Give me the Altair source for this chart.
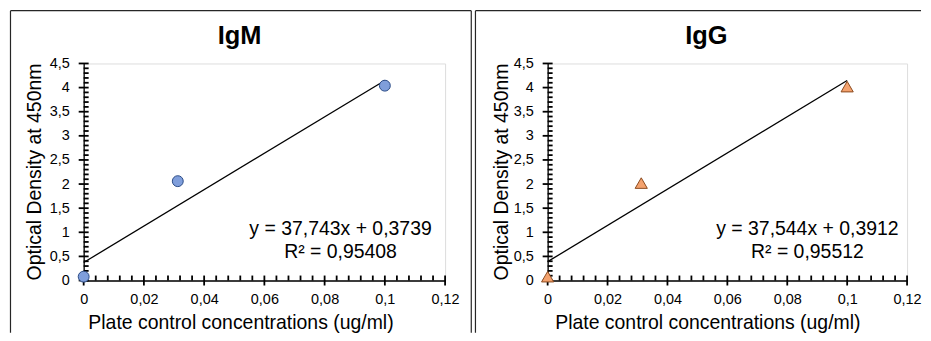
import altair as alt
import pandas as pd

# ---------------- data ----------------
panels = ["IgM", "IgG"]
conc = [0.0, 0.03125, 0.1]
igm_od = [0.08, 2.06, 4.04]
igg_od = [0.08, 2.02, 4.02]
slopes = [37.743, 37.544]
intercepts = [0.3739, 0.3912]
eq_text = ["y = 37,743x + 0,3739", "y = 37,544x + 0,3912"]
r2_text = ["R² = 0,95408", "R² = 0,95512"]
fit_x = [0.0, 0.1]

x_major = [0, 0.02, 0.04, 0.06, 0.08, 0.1, 0.12]
x_minor = [0.004, 0.008, 0.012, 0.016, 0.024, 0.028, 0.032, 0.036,
           0.044, 0.048, 0.052, 0.056, 0.064, 0.068, 0.072, 0.076,
           0.084, 0.088, 0.092, 0.096, 0.104, 0.108, 0.112, 0.116]
y_major = [0, 0.5, 1, 1.5, 2, 2.5, 3, 3.5, 4, 4.5]
y_minor = [0.1, 0.2, 0.3, 0.4, 0.6, 0.7, 0.8, 0.9, 1.1, 1.2, 1.3, 1.4,
           1.6, 1.7, 1.8, 1.9, 2.1, 2.2, 2.3, 2.4, 2.6, 2.7, 2.8, 2.9,
           3.1, 3.2, 3.3, 3.4, 3.6, 3.7, 3.8, 3.9, 4.1, 4.2, 4.3, 4.4]

x_title = "Plate control concentrations (ug/ml)"
y_title = "Optical Density at 450nm"

FONT = "Liberation Sans"
H = 218


def panel(idx, od, shape, fill, stroke, W, frame_left, frame_right, point_size, dx):
    xs = alt.Scale(domain=[0, 0.12], nice=False, zero=False)
    ys = alt.Scale(domain=[0, 4.5], nice=False, zero=False)
    common = dict(title=None, ticks=False, grid=False, labelFlush=False,
                  labelExpr="replace(toString(datum.value), '.', ',')",
                  labelFont=FONT, labelFontSize=14.5, labelColor="black",
                  domainColor="black", domainWidth=1.3)
    xaxis = alt.Axis(values=x_major, labelPadding=12.5, **common)
    yaxis = alt.Axis(values=y_major, labelPadding=14.5, **common)

    pts = pd.DataFrame({"x": conc, "y": od})
    fit = pd.DataFrame({"x": fit_x})

    X = alt.X("x:Q", scale=xs, axis=xaxis)
    Y = alt.Y("y:Q", scale=ys, axis=yaxis)

    line = alt.Chart(fit).transform_calculate(
        y=f"{slopes[idx]} * datum.x + {intercepts[idx]}"
    ).mark_line(color="black", strokeWidth=1.3, clip=False).encode(x=X, y=Y)
    points = alt.Chart(pts).mark_point(
        shape=shape, filled=True, fill=fill, stroke=stroke, strokeWidth=1,
        size=point_size, opacity=1, clip=False
    ).encode(x=X, y=Y)

    tk = dict(color="black", thickness=1.8, opacity=1, clip=False)
    ymaj = alt.Chart(alt.Data(values=[{"y": v} for v in y_major])).mark_tick(
        orient="horizontal", size=10, **tk).encode(y=Y, x=alt.value(0))
    ymin = alt.Chart(alt.Data(values=[{"y": v} for v in y_minor])).mark_tick(
        orient="horizontal", size=5, **tk).encode(y=Y, x=alt.value(2.5))
    xmaj = alt.Chart(alt.Data(values=[{"x": v} for v in x_major])).mark_tick(
        orient="vertical", size=10, **tk).encode(x=X, y=alt.value(H))
    xmin = alt.Chart(alt.Data(values=[{"x": v} for v in x_minor])).mark_tick(
        orient="vertical", size=5, **tk).encode(x=X, y=alt.value(H - 2.5))

    one = alt.Data(values=[{}])

    def txt(text, x, y, size, bold=False, angle=0, align="center"):
        return alt.Chart(one).mark_text(
            text=text, font=FONT, fontSize=size, fontWeight="bold" if bold else "normal",
            color="black", align=align, baseline="alphabetic", angle=angle
        ).encode(x=alt.value(x + dx), y=alt.value(y))

    title = txt(panels[idx], 156.5, -19.5, 25.5, bold=True)
    xt = txt(x_title, 158, 267, 19.5)
    yt = txt(y_title, -42.5, H / 2, 19.5, angle=270)
    eq1 = txt(eq_text[idx], 258, 172.5, 19.5)
    eq2 = txt(r2_text[idx], 258, 195, 19.5)

    frame_color = "#262626"
    top, bottom = -53, 270.5
    fr = [
        alt.Chart(one).mark_rule(color=frame_color, strokeWidth=1.2).encode(
            x=alt.value(frame_left), x2=alt.value(frame_right), y=alt.value(top)),
        alt.Chart(one).mark_rule(color=frame_color, strokeWidth=1.2).encode(
            x=alt.value(frame_left), y=alt.value(top), y2=alt.value(bottom)),
    ]
    if idx == 0:
        fr.append(alt.Chart(one).mark_rule(color=frame_color, strokeWidth=1.2).encode(
            x=alt.value(frame_right), y=alt.value(top), y2=alt.value(bottom)))

    return alt.layer(*fr, ymin, ymaj, xmin, xmaj, line, points,
                     title, xt, yt, eq1, eq2).properties(width=W, height=H)


left = panel(0, igm_od, "circle", "#7f9edb", "#2b4c86", 363, -73.5, 389.3, 120, 0)
right = panel(1, igg_od, "triangle-up", "#f4a26e", "#8a4a1e", 361, -72.5, 375, 150, 2.9)

chart = alt.hconcat(left, right, spacing=1).properties(
    padding={"left": 1, "top": 0, "right": 0, "bottom": 0}
).configure_view(stroke=None).configure(background="white")

chart.save("out.html", embed_options={"renderer": "svg", "actions": False})
